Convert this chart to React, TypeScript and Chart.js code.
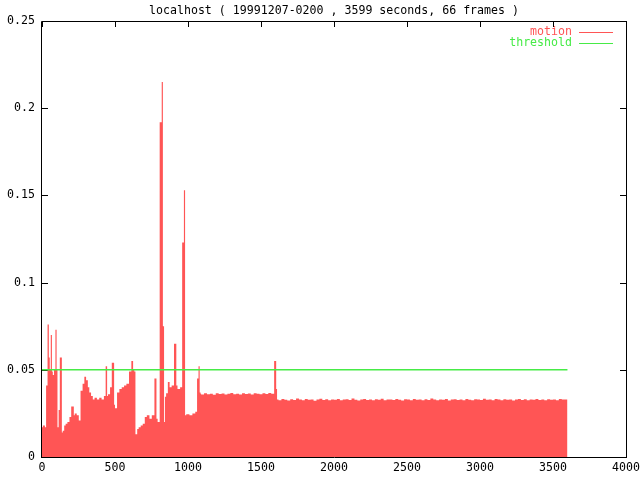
import React, { useEffect, useRef } from "react";
import { Chart, registerables } from "chart.js";

Chart.register(...registerables);

const titleText = "localhost ( 19991207-0200 , 3599 seconds, 66 frames )";
const seriesNames = ["motion", "threshold"];
const xTickValues = [0, 500, 1000, 1500, 2000, 2500, 3000, 3500, 4000];
const yTickValues = [0, 0.05, 0.1, 0.15, 0.2, 0.25];
const yTickLabels = ["0", "0.05", "0.1", "0.15", "0.2", "0.25"];
const thresholdValue = 0.05;
const endTime = 3599;

// irregular first part (seconds, motion)
const burstTimes = [
  0, 6, 20, 28, 38, 47, 53, 60, 68, 74, 82, 92, 100, 106, 114, 122, 136, 142, 152, 162,
  174, 188, 200, 218, 224, 238, 252, 264, 278, 290, 302, 314, 324, 336, 348, 360, 376, 392, 408, 424,
  436, 446, 452, 466, 478, 494, 500, 514, 530, 546, 562, 578, 596, 612, 624, 632, 640, 652, 662, 676,
  690, 704, 718, 736, 752, 770, 784, 792, 806, 820, 828, 836, 842, 850, 862, 874, 888, 904, 920, 928,
  946, 960, 972, 980, 988, 1010, 1030, 1050, 1062, 1072, 1080, 1086,
];
const burstValues = [
  0.022, 0.017, 0.018, 0.017, 0.041, 0.076, 0.057, 0.05, 0.07, 0.049, 0.047, 0.05, 0.073, 0.05, 0.017, 0.027, 0.057, 0.014, 0.015, 0.018,
  0.019, 0.02, 0.023, 0.029, 0.024, 0.025, 0.024, 0.021, 0.038, 0.042, 0.046, 0.044, 0.04, 0.037, 0.035, 0.033, 0.034, 0.033, 0.034, 0.033,
  0.035, 0.052, 0.035, 0.036, 0.04, 0.054, 0.03, 0.028, 0.037, 0.039, 0.04, 0.041, 0.042, 0.049, 0.055, 0.05, 0.049, 0.013, 0.016, 0.017,
  0.018, 0.019, 0.023, 0.024, 0.022, 0.024, 0.045, 0.022, 0.02, 0.192, 0.215, 0.075, 0.02, 0.0345, 0.0365, 0.043, 0.04, 0.041, 0.065, 0.041,
  0.039, 0.04, 0.123, 0.153, 0.024, 0.0245, 0.024, 0.025, 0.026, 0.045, 0.052, 0.037,
];

// 20-second samples from 1090 s to 1590 s
const plateauStart = 1090;
const sampleStep = 20;
const plateauValues = [
  0.0362, 0.0358, 0.0365, 0.036, 0.0363, 0.0357, 0.0366, 0.0361, 0.0364, 0.0359,
  0.0362, 0.0367, 0.036, 0.0363, 0.0358, 0.0365, 0.0361, 0.0364, 0.0359, 0.0366,
  0.0362, 0.036, 0.0365, 0.0361, 0.0367, 0.0363,
];

const jumpTimes = [1604, 1610];
const jumpValues = [0.055, 0.039];

// 20-second samples from 1620 s to 3580 s
const steadyStart = 1620;
const steadyValues = [
  0.033, 0.0326, 0.0333, 0.0328, 0.0324, 0.0331, 0.0327, 0.0335, 0.0329, 0.0325,
  0.0332, 0.0328, 0.033, 0.0323, 0.0329, 0.0334, 0.0327, 0.0331, 0.0326, 0.033,
  0.0328, 0.0333, 0.0325, 0.0329, 0.0331, 0.0327, 0.0336, 0.0328, 0.0324, 0.033,
  0.0332, 0.0327, 0.0329, 0.0325, 0.0331, 0.0328, 0.0334, 0.0326, 0.033, 0.0329,
  0.0327, 0.0332, 0.0328, 0.0324, 0.0331, 0.0329, 0.0326, 0.0333, 0.0328, 0.033,
  0.0325, 0.0331, 0.0327, 0.0335, 0.0329, 0.0326, 0.033, 0.0328, 0.0332, 0.0324,
  0.0329, 0.0331, 0.0327, 0.033, 0.0326, 0.0333, 0.0328, 0.0325, 0.0331, 0.0329,
  0.0327, 0.0334, 0.0328, 0.033, 0.0325, 0.0332, 0.0329, 0.0326, 0.0331, 0.0328,
  0.033, 0.0324, 0.0329, 0.0333, 0.0327, 0.0331, 0.0326, 0.033, 0.0328, 0.0332,
  0.0327, 0.0329, 0.0325, 0.0331, 0.0328, 0.033, 0.0326, 0.0332, 0.0329,
];

const RED = "rgb(255,85,85)";
const GREEN = "rgb(70,235,70)";
const FONT = '"DejaVu Sans Mono", monospace';
const FONT_SIZE = 11.6;

function buildMotion() {
  const pts: { x: number; y: number }[] = [];
  burstTimes.forEach((t, i) => pts.push({ x: t, y: burstValues[i] }));
  plateauValues.forEach((v, i) => pts.push({ x: plateauStart + i * sampleStep, y: v }));
  jumpTimes.forEach((t, i) => pts.push({ x: t, y: jumpValues[i] }));
  steadyValues.forEach((v, i) => pts.push({ x: steadyStart + i * sampleStep, y: v }));
  pts.push({ x: endTime, y: steadyValues[steadyValues.length - 1] });
  return pts;
}

const gnuplotDecor = {
  id: "gnuplotDecor",
  beforeDatasetsDraw(chart: any) {
    const { ctx, chartArea: a, scales } = chart;
    ctx.save();
    ctx.strokeStyle = "#000";
    ctx.lineWidth = 1;
    ctx.beginPath();
    ctx.moveTo(a.left, a.bottom + 0.5);
    ctx.lineTo(a.right + 1, a.bottom + 0.5);
    for (const v of xTickValues) {
      const px = Math.round(scales.x.getPixelForValue(v)) + 0.5;
      ctx.moveTo(px, a.bottom);
      ctx.lineTo(px, a.bottom - 6);
      ctx.moveTo(px, a.top);
      ctx.lineTo(px, a.top + 6);
    }
    for (const v of yTickValues) {
      const py = Math.round(scales.y.getPixelForValue(v)) + 0.5;
      ctx.moveTo(a.left, py);
      ctx.lineTo(a.left + 6, py);
      ctx.moveTo(a.right, py);
      ctx.lineTo(a.right - 6, py);
    }
    ctx.stroke();
    ctx.restore();
  },
  afterDatasetsDraw(chart: any) {
    const { ctx, chartArea: a } = chart;
    ctx.save();
    ctx.strokeStyle = "#000";
    ctx.lineWidth = 1;
    ctx.beginPath();
    ctx.moveTo(a.left - 0.5, a.bottom + 1);
    ctx.lineTo(a.left - 0.5, a.top + 0.5);
    ctx.lineTo(a.right + 0.5, a.top + 0.5);
    ctx.lineTo(a.right + 0.5, a.bottom + 1);
    ctx.stroke();

    ctx.font = `${FONT_SIZE}px ${FONT}`;
    ctx.textBaseline = "middle";
    ctx.textAlign = "center";
    ctx.fillStyle = "#000";
    ctx.fillText(titleText, (a.left + a.right) / 2, 11);

    const colors = [RED, GREEN];
    seriesNames.forEach((name, i) => {
      const y = 32 + i * 11;
      ctx.textAlign = "right";
      ctx.fillStyle = colors[i];
      ctx.fillText(name, 572, y);
      ctx.strokeStyle = colors[i];
      ctx.beginPath();
      ctx.moveTo(579, y + 0.5);
      ctx.lineTo(613, y + 0.5);
      ctx.stroke();
    });
    ctx.restore();
  },
};

export default function App() {
  const canvasRef = useRef<HTMLCanvasElement | null>(null);

  useEffect(() => {
    const canvas = canvasRef.current;
    if (!canvas) return;
    const chart = new Chart(canvas, {
      type: "line",
      data: {
        datasets: [
          {
            label: seriesNames[0],
            data: buildMotion(),
            stepped: "after",
            fill: "origin",
            backgroundColor: RED,
            borderColor: RED,
            borderWidth: 0,
            pointRadius: 0,
            order: 2,
          },
          {
            label: seriesNames[1],
            data: [
              { x: 0, y: thresholdValue },
              { x: endTime, y: thresholdValue },
            ],
            fill: false,
            borderColor: GREEN,
            borderWidth: 1.6,
            pointRadius: 0,
            order: 1,
          },
        ],
      },
      options: {
        responsive: false,
        animation: false,
        devicePixelRatio: 1,
        events: [],
        layout: { padding: { left: 0, right: 14, top: 21, bottom: 0 } },
        plugins: {
          legend: { display: false },
          title: { display: false },
          tooltip: { enabled: false },
        },
        scales: {
          x: {
            type: "linear",
            min: 0,
            max: 4000,
            afterBuildTicks: (scale: any) => {
              scale.ticks = xTickValues.map((v) => ({ value: v }));
            },
            afterFit: (scale: any) => {
              scale.height = 23;
              scale.paddingLeft = 0;
              scale.paddingRight = 0;
            },
            grid: { display: false, drawTicks: false },
            border: { display: false },
            ticks: {
              color: "#000",
              font: { family: FONT, size: FONT_SIZE },
              padding: 4,
              maxRotation: 0,
              autoSkip: false,
              callback: (v: any) => String(v),
            },
          },
          y: {
            type: "linear",
            min: 0,
            max: 0.25,
            afterBuildTicks: (scale: any) => {
              scale.ticks = yTickValues.map((v) => ({ value: v }));
            },
            afterFit: (scale: any) => {
              scale.width = 42;
              scale.paddingTop = 0;
              scale.paddingBottom = 0;
            },
            grid: { display: false, drawTicks: false },
            border: { display: false },
            ticks: {
              color: "#000",
              font: { family: FONT, size: FONT_SIZE },
              padding: 7,
              autoSkip: false,
              callback: (_v: any, i: number) => yTickLabels[i],
            },
          },
        },
      },
      plugins: [gnuplotDecor],
    });
    return () => chart.destroy();
  }, []);

  return (
    <div style={{ position: "fixed", left: 0, top: 0, width: 640, height: 480, background: "#fff" }}>
      <canvas ref={canvasRef} width={640} height={480} style={{ display: "block" }} />
    </div>
  );
}
